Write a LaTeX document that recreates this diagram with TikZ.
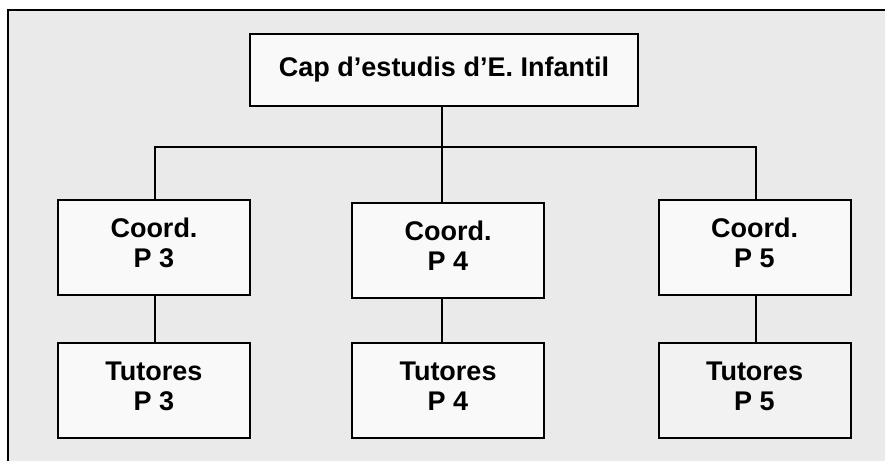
\documentclass[tikz,border=0pt]{standalone}
\usepackage{fontspec}
\setmainfont{Liberation Sans}
\definecolor{bgpat}{RGB}{234,234,234}
\definecolor{boxfill}{RGB}{249,249,249}
\definecolor{boxgray}{RGB}{242,242,242}
\newcommand\twolines[2]{\raisebox{1pt}[\height][\depth]{\begin{tabular}{@{}c@{}}#1\\#2\end{tabular}}}
\begin{document}
\begin{tikzpicture}[x=1pt,y=-1pt,
  orgbox/.style={draw=black,line width=2pt,fill=boxfill,minimum width=192pt,minimum height=95pt,
    inner sep=0pt,align=center,font=\fontsize{27}{30}\selectfont\bfseries},
  link/.style={line width=2pt}]
\useasboundingbox (0,0) rectangle (885,461);
\fill[white] (0,0) rectangle (885,461);
\fill[bgpat] (8,10) rectangle (885,461);
\draw[line width=2pt] (8,461) -- (8,10) -- (885,10);
\node[orgbox,minimum width=388pt,minimum height=72pt] (top) at (444,70) {Cap d’estudis d’E. Infantil};
\node[orgbox] (c3) at (154,247) {\twolines{Coord.}{P 3}};
\node[orgbox] (c4) at (448,250.5) {\twolines{Coord.}{P 4}};
\node[orgbox] (c5) at (754.5,247) {\twolines{Coord.}{P 5}};
\node[orgbox] (t3) at (154,390.5) {\twolines{Tutores}{P 3}};
\node[orgbox] (t4) at (448,390.5) {\twolines{Tutores}{P 4}};
\node[orgbox,fill=boxgray] (t5) at (754.5,390.5) {\twolines{Tutores}{P 5}};
\coordinate (hj) at (442,147);
\coordinate (hl) at (155,147);
\coordinate (hr) at (756,147);
\draw[link] ([xshift=-2pt]top.south) -- (hj);
\draw[link] ([xshift=1pt]c3.north) -- (hl) -- (hr) -- ([xshift=1.5pt]c5.north);
\draw[link] (hj) -- ([xshift=-6pt]c4.north);
\draw[link] ([xshift=1pt]c3.south) -- ([xshift=1pt]t3.north);
\draw[link] ([xshift=-6pt]c4.south) -- ([xshift=-6pt]t4.north);
\draw[link] ([xshift=1.5pt]c5.south) -- ([xshift=1.5pt]t5.north);
\end{tikzpicture}
\end{document}
